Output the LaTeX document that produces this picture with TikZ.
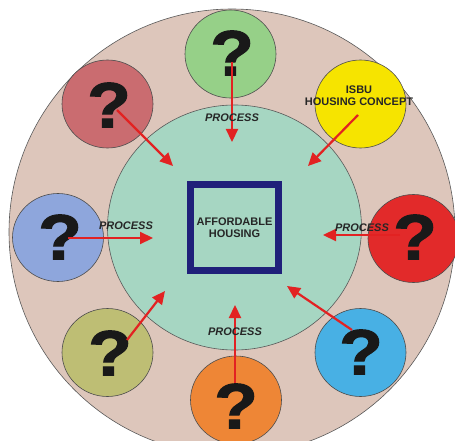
\documentclass[tikz,border=0pt]{standalone}
\usepackage{fontspec}
\setmainfont{Liberation Sans}
\newfontfamily\qfont{Liberation Sans}[FakeStretch=1.12,FakeBold=1.6]
\usetikzlibrary{arrows.meta,shapes.geometric}
\definecolor{outerpink}{RGB}{221,198,187}
\definecolor{innermint}{RGB}{166,214,194}
\definecolor{navybox}{RGB}{32,32,122}
\definecolor{arrowred}{RGB}{226,34,34}
\definecolor{bgreen}{RGB}{150,208,136}
\definecolor{byellow}{RGB}{246,228,0}
\definecolor{brose}{RGB}{202,108,112}
\definecolor{bblue}{RGB}{142,166,220}
\definecolor{bred}{RGB}{226,42,42}
\definecolor{bolive}{RGB}{190,190,116}
\definecolor{bcyan}{RGB}{72,176,228}
\definecolor{borange}{RGB}{238,134,54}
\tikzset{
  bubble/.style={ellipse,draw=black!70,line width=0.6pt,minimum width=91pt,minimum height=88pt,inner sep=0pt},
  qmark/.style={font=\qfont\bfseries\fontsize{64}{64}\selectfont,text=black!90,inner sep=0pt},
  flow/.style={draw=arrowred,line width=2.2pt,-{Triangle[length=13pt,width=12pt]}},
  proclabel/.style={font=\bfseries\itshape\fontsize{11}{12}\selectfont,text=black!85,inner sep=0pt},
  capslabel/.style={font=\bfseries\fontsize{11}{12}\selectfont,text=black!85,align=center,inner sep=0pt}
}
\begin{document}
\begin{tikzpicture}[x=1pt,y=-1pt]

%%% Frame and rings

\useasboundingbox (0,0) rectangle (455,441);
\clip (0,0) rectangle (455,441);
\node[circle,draw=black!65,fill=outerpink,line width=0.6pt,minimum size=446pt] (outer) at (232,232) {}; % outer ring
\node[ellipse,draw=black!65,fill=innermint,line width=0.6pt,minimum width=254pt,minimum height=245pt] (inner) at (234.5,227.5) {}; % inner circle
\node[draw=navybox,line width=7pt,minimum width=88pt,minimum height=86pt,capslabel] (house) at (234.5,227.5) {AFFORDABLE\\HOUSING}; % centre box

%%% Bubbles round the ring

\node[bubble,fill=bgreen] (b-n) at (230.5,54) {}; % top
\node[bubble,fill=byellow] (b-ne) at (360.5,104) {}; % ISBU
\node[bubble,fill=bred] (b-e) at (413.5,238.5) {}; % right
\node[bubble,fill=bcyan] (b-se) at (360.5,352.5) {}; % lower right
\node[bubble,fill=borange] (b-s) at (236,400) {}; % bottom
\node[bubble,fill=bolive] (b-sw) at (107.5,352.5) {}; % lower left
\node[bubble,fill=bblue] (b-w) at (58,237.5) {}; % left
\node[bubble,fill=brose] (b-nw) at (107.5,104) {}; % upper left

\node[qmark] (q-n) at (232,53) {?};
\node[qmark] (q-e) at (415,237) {?};
\node[qmark] (q-se) at (361,352) {?};
\node[qmark] (q-s) at (236,406) {?};
\node[qmark] (q-sw) at (110,353) {?};
\node[qmark] (q-w) at (60,237) {?};
\node[qmark] (q-nw) at (109,105) {?};
\node[capslabel] (isbu) at (359,96) {ISBU\\HOUSING CONCEPT}; % yellow bubble text

%%% Arrows into the centre

\coordinate (to-n) at (232,142);
\coordinate (to-ne) at (308,166);
\coordinate (to-e) at (323,235);
\coordinate (to-se) at (287,286);
\coordinate (to-s) at (235,305);
\coordinate (to-sw) at (165,291);
\coordinate (to-w) at (153,238);
\coordinate (to-nw) at (173,166);
\draw[flow] ([shift={(0,9)}]q-n.center) -- (to-n);
\draw[flow] ([shift={(-1,19)}]isbu.center) -- (to-ne);
\draw[flow] ([shift={(-15,-2)}]q-e.center) -- (to-e);
\draw[flow] ([shift={(-9,-22)}]q-se.center) -- (to-se);
\draw[flow] ([shift={(-1,-23)}]q-s.center) -- (to-s);
\draw[flow] ([shift={(17,-13)}]q-sw.center) -- (to-sw);
\draw[flow] ([shift={(8,1)}]q-w.center) -- (to-w);
\draw[flow] ([shift={(8,5)}]q-nw.center) -- (to-nw);

%%% Process labels

\node[proclabel] (p-n) at (232,118) {PROCESS};
\node[proclabel] (p-w) at (126,226) {PROCESS};
\node[proclabel] (p-e) at (362,228) {PROCESS};
\node[proclabel] (p-s) at (235,332) {PROCESS};
\end{tikzpicture}
\end{document}
